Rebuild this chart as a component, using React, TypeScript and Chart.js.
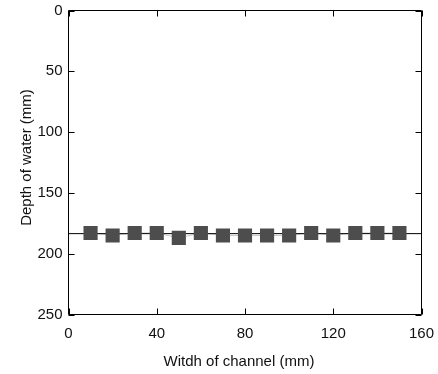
import React, { useEffect, useRef } from 'react';
import { Chart, registerables } from 'chart.js';

Chart.register(...registerables);

const widths = [10, 20, 30, 40, 50, 60, 70, 80, 90, 100, 110, 120, 130, 140, 150];
const depths = [183, 185, 183, 183, 187, 183, 185, 185, 185, 185, 183, 185, 183, 183, 183];
const levelX = [0, 160];
const levelY = [183.5, 183.5];
const xTicks = [0, 40, 80, 120, 160];
const yTicks = [0, 50, 100, 150, 200, 250];
const xTitle = 'Witdh of channel (mm)';
const yTitle = 'Depth of water (mm)';

const FONT = 'Liberation Sans, Arial, sans-serif';
const TEXT = '#111';

const framePlugin = {
  id: 'frame',
  beforeDatasetsDraw(chart: any) {
    const { ctx, chartArea } = chart;
    const xs = chart.scales.x;
    const ys = chart.scales.y;
    const L = 6;
    ctx.save();
    ctx.strokeStyle = '#000';
    ctx.lineWidth = 1;
    ctx.beginPath();
    ctx.rect(chartArea.left, chartArea.top, chartArea.right - chartArea.left, chartArea.bottom - chartArea.top);
    for (const v of xTicks) {
      const px = Math.round(xs.getPixelForValue(v)) + 0.5;
      ctx.moveTo(px, chartArea.bottom);
      ctx.lineTo(px, chartArea.bottom - L);
      ctx.moveTo(px, chartArea.top);
      ctx.lineTo(px, chartArea.top + L);
    }
    for (const v of yTicks) {
      const py = Math.round(ys.getPixelForValue(v)) + 0.5;
      ctx.moveTo(chartArea.left, py);
      ctx.lineTo(chartArea.left + L, py);
      ctx.moveTo(chartArea.right, py);
      ctx.lineTo(chartArea.right - L, py);
    }
    ctx.stroke();
    ctx.restore();
  },
  afterDraw(chart: any) {
    const { ctx } = chart;
    ctx.save();
    ctx.fillStyle = TEXT;
    ctx.font = '15px ' + FONT;
    ctx.textAlign = 'center';
    ctx.textBaseline = 'alphabetic';
    ctx.fillText(xTitle, 239, 366);
    ctx.translate(31, 157.5);
    ctx.rotate(-Math.PI / 2);
    ctx.fillText(yTitle, 0, 0);
    ctx.restore();
  },
};

const zeroPad = (s: any) => {
  s.paddingLeft = 0;
  s.paddingRight = 0;
  s.paddingTop = 0;
  s.paddingBottom = 0;
};

export default function App() {
  const ref = useRef<HTMLCanvasElement>(null);
  useEffect(() => {
    const chart = new Chart(ref.current!, {
      type: 'scatter',
      data: {
        datasets: [
          {
            data: widths.map((x, i) => ({ x, y: depths[i] })),
            showLine: false,
            pointStyle: 'rect',
            pointRadius: 10,
            pointHoverRadius: 10,
            backgroundColor: '#4d4d4d',
            borderWidth: 0,
            order: 0,
          },
          {
            type: 'line',
            data: levelX.map((x, i) => ({ x, y: levelY[i] })),
            borderColor: '#000',
            borderWidth: 1,
            pointRadius: 0,
            showLine: true,
            order: 1,
          },
          {
            type: 'line',
            data: widths.map((x, i) => ({ x, y: depths[i] })),
            borderColor: '#c8c8c8',
            borderWidth: 1,
            pointRadius: 0,
            showLine: true,
            order: 2,
          },
        ] as any,
      },
      options: {
        animation: false,
        responsive: false,
        events: [],
        layout: { padding: { top: 10.5, right: 16.5, left: 0, bottom: 0 } },
        plugins: { legend: { display: false }, tooltip: { enabled: false } },
        scales: {
          x: {
            type: 'linear',
            min: 0,
            max: 160,
            grid: { display: false, drawTicks: false },
            border: { display: false },
            afterBuildTicks: (s: any) => { s.ticks = xTicks.map((v) => ({ value: v })); },
            afterFit: (s: any) => { s.height = 59.5; zeroPad(s); },
            ticks: { color: TEXT, padding: 10, font: { family: FONT, size: 15 }, maxRotation: 0 },
          },
          y: {
            type: 'linear',
            reverse: true,
            min: 0,
            max: 250,
            grid: { display: false, drawTicks: false },
            border: { display: false },
            afterBuildTicks: (s: any) => { s.ticks = yTicks.map((v) => ({ value: v })); },
            afterFit: (s: any) => { s.width = 68.5; zeroPad(s); },
            ticks: { color: TEXT, padding: 6, font: { family: FONT, size: 15 } },
          },
        },
      },
      plugins: [framePlugin],
    } as any);
    return () => chart.destroy();
  }, []);
  return (
    <div style={{ position: 'fixed', left: 0, top: 0, width: 438, height: 374, background: '#fff' }}>
      <canvas ref={ref} width={438} height={374} style={{ width: 438, height: 374 }} />
    </div>
  );
}
